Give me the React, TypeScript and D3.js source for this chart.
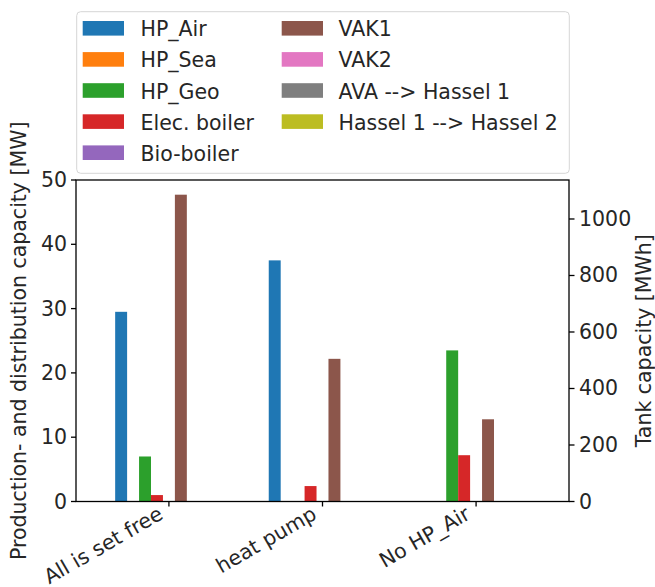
import React from "react";
import * as d3 from "d3";

const categories = ["All is set free", "heat pump", "No HP_Air"];
const seriesNames = [
  "HP_Air",
  "HP_Sea",
  "HP_Geo",
  "Elec. boiler",
  "Bio-boiler",
  "VAK1",
  "VAK2",
  "AVA --> Hassel 1",
  "Hassel 1 --> Hassel 2",
];
const seriesColors = [
  "#1f77b4",
  "#ff7f0e",
  "#2ca02c",
  "#d62728",
  "#9467bd",
  "#8c564b",
  "#e377c2",
  "#7f7f7f",
  "#bcbd22",
];
// which axis each series belongs to: "L" = MW, "R" = MWh (tanks)
const seriesAxis = ["L", "L", "L", "L", "L", "R", "R", "L", "L"];

const hpAir = [29.5, 37.5, 0];
const hpSea = [0, 0, 0];
const hpGeo = [7.0, 0, 23.5];
const elecBoiler = [1.0, 2.4, 7.2];
const bioBoiler = [0, 0, 0];
const vak1 = [1086, 505, 291];
const vak2 = [0, 0, 0];
const avaHassel1 = [0, 0, 0];
const hassel1Hassel2 = [0, 0, 0];

const seriesValues = [hpAir, hpSea, hpGeo, elecBoiler, bioBoiler, vak1, vak2, avaHassel1, hassel1Hassel2];

const leftTicks = [0, 10, 20, 30, 40, 50];
const rightTicks = [0, 200, 400, 600, 800, 1000];

const W = 655;
const H = 587;
const FONT = "DejaVu Sans, sans-serif";
const FS = 20.5;

export default function App() {
  const left = 76;
  const right = 569;
  const top = 180;
  const bottom = 501.5;

  const x = d3.scaleLinear().domain([-0.605, 2.605]).range([left, right]);
  const yL = d3.scaleLinear().domain([0, 50]).range([bottom, top]);
  const yR = d3.scaleLinear().domain([0, 1138]).range([bottom, top]);

  const n = seriesNames.length;
  const barW = 0.7 / n;

  const bars: JSX.Element[] = [];
  seriesValues.forEach((vals, si) => {
    const ys = seriesAxis[si] === "L" ? yL : yR;
    vals.forEach((v, ci) => {
      if (v <= 0) return;
      const cx = ci + (si - (n - 1) / 2) * barW;
      const x0 = x(cx - barW / 2);
      const x1 = x(cx + barW / 2);
      bars.push(
        <rect
          key={`b-${si}-${ci}`}
          x={x0}
          y={ys(v)}
          width={x1 - x0}
          height={ys(0) - ys(v)}
          fill={seriesColors[si]}
        />
      );
    });
  });

  const legendRows = 5;
  const legX = [82.7, 281.7];
  const legTextX = [140.5, 338.5];
  const legY0 = 28.3;
  const legStep = 31.1;

  return (
    <svg
      width={W}
      height={H}
      style={{ position: "absolute", left: 0, top: 0, background: "#fff" }}
      fontFamily={FONT}
    >
      <rect x={0} y={0} width={W} height={H} fill="#fff" />
      {bars}
      {/* axes frame */}
      <rect x={left} y={top} width={right - left} height={bottom - top} fill="none" stroke="#000" strokeWidth={1.3} />
      {/* left ticks */}
      {leftTicks.map((t) => (
        <g key={`lt-${t}`}>
          <line x1={left - 5} x2={left} y1={yL(t)} y2={yL(t)} stroke="#000" strokeWidth={1.3} />
          <text x={left - 9} y={yL(t) + 7} fontSize={FS} textAnchor="end" fill="#262626">
            {t}
          </text>
        </g>
      ))}
      {/* right ticks */}
      {rightTicks.map((t) => (
        <g key={`rt-${t}`}>
          <line x1={right} x2={right + 5.5} y1={yR(t)} y2={yR(t)} stroke="#000" strokeWidth={1.3} />
          <text x={right + 10} y={yR(t) + 7} fontSize={FS} textAnchor="start" fill="#262626">
            {t}
          </text>
        </g>
      ))}
      {/* x ticks */}
      {categories.map((c, i) => (
        <g key={`xt-${i}`}>
          <line x1={x(i)} x2={x(i)} y1={bottom} y2={bottom + 5} stroke="#000" strokeWidth={1.3} />
          <text
            transform={`translate(${x(i) - 4.5},${518}) rotate(-30)`}
            fontSize={FS}
            textAnchor="end"
            fill="#262626"
          >
            {c}
          </text>
        </g>
      ))}
      {/* axis labels */}
      <text
        transform={`translate(25.5,${(top + bottom) / 2}) rotate(-90)`}
        fontSize={FS}
        textAnchor="middle"
        fill="#262626"
      >
        Production- and distribution capacity [MW]
      </text>
      <text
        transform={`translate(650.5,${(top + bottom) / 2}) rotate(-90)`}
        fontSize={FS}
        textAnchor="middle"
        fill="#262626"
      >
        Tank capacity [MWh]
      </text>
      {/* legend */}
      <rect x={76.7} y={11.7} width={569.3 - 76.7} height={173.3 - 11.7} rx={4} ry={4} fill="#fff" fillOpacity={0.8} stroke="#d6d6d6" strokeWidth={1} />
      {seriesNames.map((s, i) => {
        const col = Math.floor(i / legendRows);
        const row = i % legendRows;
        const cy = legY0 + row * legStep;
        return (
          <g key={`lg-${i}`}>
            <rect x={legX[col]} y={cy - 7.3} width={41.3} height={14.6} fill={seriesColors[i]} />
            <text x={legTextX[col]} y={cy + 8} fontSize={FS} fill="#262626">
              {s}
            </text>
          </g>
        );
      })}
    </svg>
  );
}
